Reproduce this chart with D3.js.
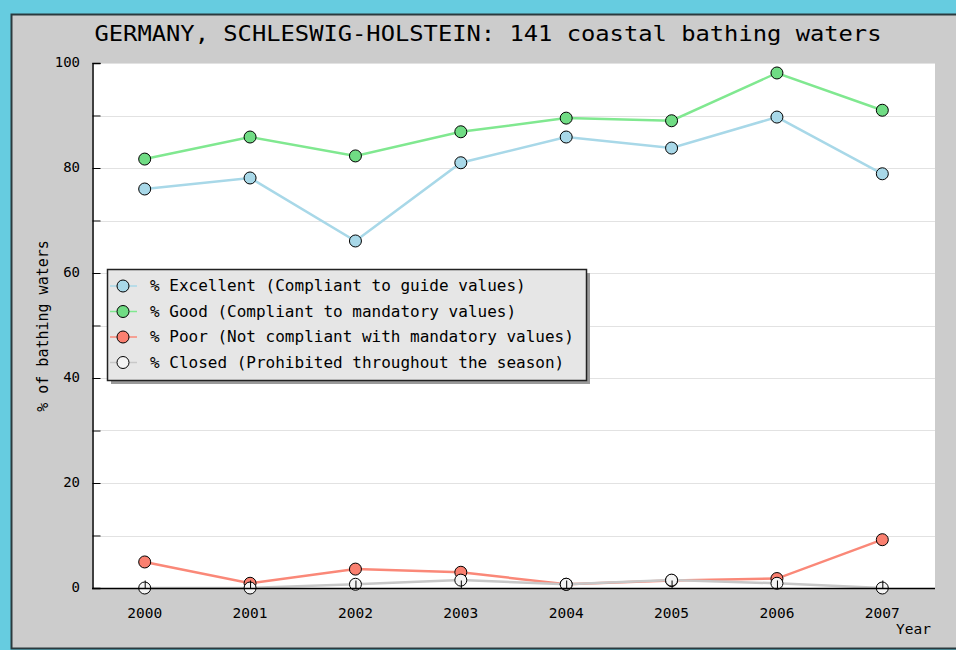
<!DOCTYPE html>
<html>
<head>
<meta charset="utf-8">
<script src="https://cdn.jsdelivr.net/npm/d3@7"></script>
<style>
  html, body { margin: 0; padding: 0; background: #66cce0; }
  svg { display: block; }
  text { font-family: "DejaVu Sans Mono", "Liberation Mono", monospace; fill: #000; }
</style>
</head>
<body>
<div id="chart"></div>
<script>
// chart data
const years = ['2000', '2001', '2002', '2003', '2004', '2005', '2006', '2007'];
const excellent = [76.0, 78.1, 66.1, 81.0, 85.9, 83.8, 89.7, 78.9];
const good = [81.7, 85.9, 82.3, 86.9, 89.5, 89.0, 98.1, 91.0];
const poor = [4.96, 0.9, 3.6, 3.0, 0.71, 1.42, 1.8, 9.2];
const closed = [0, 0, 0.71, 1.5, 0.71, 1.5, 0.9, 0];
const yTicks = [0, 20, 40, 60, 80, 100];
const yMinor = [10, 30, 50, 70, 90];

const seriesList = [
  { name: '% Excellent (Compliant to guide values)', values: excellent, color: '#a8d8e8', fill: '#a8d8e8' },
  { name: '% Good (Compliant to mandatory values)', values: good, color: '#80e890', fill: '#70dc84' },
  { name: '% Poor (Not compliant with mandatory values)', values: poor, color: '#fa8878', fill: '#fa8070' },
  { name: '% Closed (Prohibited throughout the season)', values: closed, color: '#c8c8c8', fill: '#f4f4f4' }
];

const width = 956, height = 650;
const plotLeft = 92, plotRight = 935, plotTop = 63, plotBottom = 588;

const svg = d3.select('#chart').append('svg')
  .attr('width', width)
  .attr('height', height);

// gray panel
svg.append('rect')
  .attr('x', 11.5).attr('y', 14.5)
  .attr('width', width + 10).attr('height', 634)
  .attr('fill', '#cccccc')
  .attr('stroke', '#2a3a3e')
  .attr('stroke-width', 2);

// plot background
svg.append('rect')
  .attr('x', plotLeft).attr('y', plotTop)
  .attr('width', plotRight - plotLeft).attr('height', plotBottom - plotTop)
  .attr('fill', '#ffffff');

const x = d3.scalePoint().domain(years).range([plotLeft, plotRight]).padding(0.5);
const y = d3.scaleLinear().domain([0, 100]).range([plotBottom, plotTop]);

// grid lines
svg.append('g')
  .selectAll('line')
  .data(yTicks.concat(yMinor).filter(d => d > 0))
  .enter()
  .append('line')
  .attr('x1', plotLeft + 8).attr('x2', plotRight)
  .attr('y1', d => Math.round(y(d)) + 0.5)
  .attr('y2', d => Math.round(y(d)) + 0.5)
  .attr('stroke', '#e2e2e2')
  .attr('stroke-width', 1);

// y axis
const yAxis = svg.append('g')
  .attr('transform', 'translate(' + (plotLeft + 0.5) + ',0)')
  .call(d3.axisRight(y).tickValues(yTicks.concat(yMinor)).tickSize(8).tickFormat(''));
yAxis.select('.domain').attr('stroke', '#000').attr('stroke-width', 1.5);
yAxis.selectAll('.tick line').attr('stroke', '#000');

svg.append('g')
  .selectAll('text')
  .data(yTicks)
  .enter()
  .append('text')
  .attr('x', plotLeft - 12)
  .attr('y', d => y(d) + 4)
  .attr('text-anchor', 'end')
  .attr('font-size', 14)
  .text(d => d);

svg.append('g')
  .selectAll('text')
  .data(years)
  .enter()
  .append('text')
  .attr('x', d => x(d))
  .attr('y', plotBottom + 30)
  .attr('text-anchor', 'middle')
  .attr('font-size', 14.5)
  .text(d => d);

// axis titles
svg.append('text')
  .attr('x', 931).attr('y', 634)
  .attr('text-anchor', 'end')
  .attr('font-size', 14.5)
  .text('Year');

svg.append('text')
  .attr('transform', 'translate(48,326) rotate(-90)')
  .attr('text-anchor', 'middle')
  .attr('font-size', 15)
  .text('% of bathing waters');

// title
svg.append('text')
  .attr('x', 488).attr('y', 41)
  .attr('text-anchor', 'middle')
  .attr('font-size', 21)
  .attr('textLength', 787)
  .attr('lengthAdjust', 'spacingAndGlyphs')
  .text('GERMANY, SCHLESWIG-HOLSTEIN: 141 coastal bathing waters');

// lines and markers
const line = d3.line()
  .x((d, i) => x(years[i]))
  .y(d => y(d));

seriesList.forEach(function (s) {
  svg.append('path')
    .datum(s.values)
    .attr('d', line)
    .attr('fill', 'none')
    .attr('stroke', s.color)
    .attr('stroke-width', 2.5);
});

seriesList.forEach(function (s) {
  svg.append('g')
    .selectAll('circle')
    .data(s.values)
    .enter()
    .append('circle')
    .attr('cx', (d, i) => x(years[i]))
    .attr('cy', d => y(d))
    .attr('r', 6)
    .attr('fill', s.fill)
    .attr('stroke', '#000')
    .attr('stroke-width', 1);
});

// x axis (ticks drawn over the markers)
const xAxis = svg.append('g')
  .attr('transform', 'translate(0,' + (plotBottom + 0.5) + ')')
  .call(d3.axisTop(x).tickSize(8).tickFormat(''));
xAxis.select('.domain').attr('stroke', '#000').attr('stroke-width', 1.5)
  .attr('d', 'M' + plotLeft + ',0H' + plotRight);
xAxis.selectAll('.tick line').attr('stroke', '#000');

// legend
const lg = svg.append('g').attr('transform', 'translate(107,269)');
lg.append('rect')
  .attr('x', 4).attr('y', 4)
  .attr('width', 479).attr('height', 111)
  .attr('fill', '#9a9a9a');
lg.append('rect')
  .attr('x', 0.5).attr('y', 0.5)
  .attr('width', 479).attr('height', 111)
  .attr('fill', '#e6e6e6')
  .attr('stroke', '#222')
  .attr('stroke-width', 1.5);

const item = lg.selectAll('.item')
  .data(seriesList)
  .enter()
  .append('g')
  .attr('class', 'item')
  .attr('transform', (d, i) => 'translate(0,' + (17 + i * 25.5) + ')');
item.append('line')
  .attr('x1', 3).attr('x2', 30)
  .attr('stroke', d => d.color)
  .attr('stroke-width', 1.5);
item.append('circle')
  .attr('cx', 16).attr('r', 6)
  .attr('fill', d => d.fill)
  .attr('stroke', '#000');
item.append('text')
  .attr('x', 43).attr('y', 5)
  .attr('font-size', 16)
  .text(d => d.name);
</script>
</body>
</html>
